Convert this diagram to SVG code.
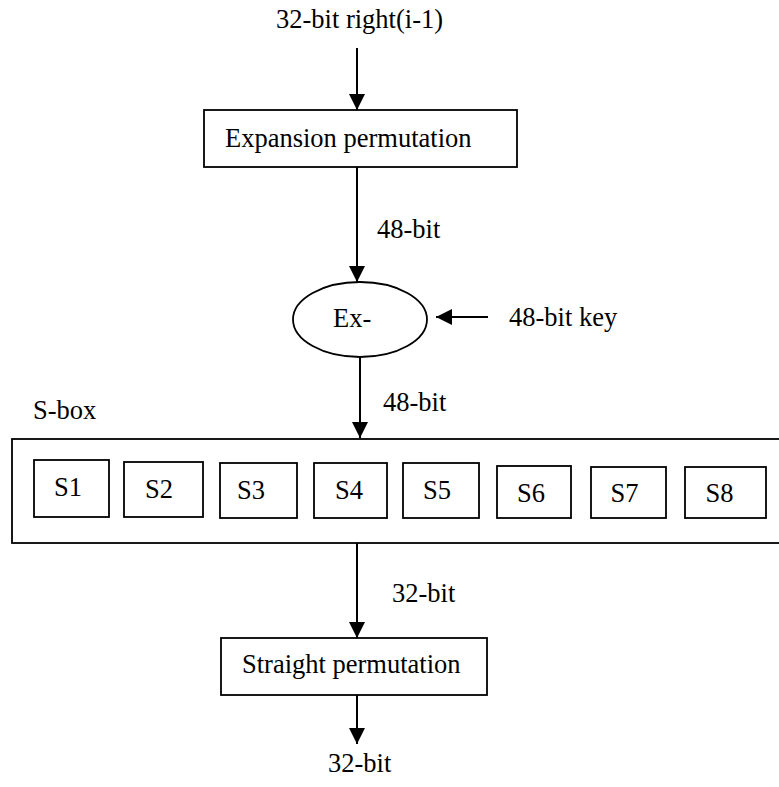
<svg xmlns="http://www.w3.org/2000/svg" width="779" height="787" viewBox="0 0 779 787">
  <style>
    .box { fill: #fff; stroke: #000; stroke-width: 1.8; }
    .wire { fill: none; stroke: #000; stroke-width: 2; }
    text { font-family: "Times New Roman", "Liberation Serif", Times, "DejaVu Serif", serif; font-size: 26.5px; fill: #000; }
    .mid { text-anchor: middle; }
  </style>
  <defs>
    <marker id="arrow" viewBox="0 0 16 16" refX="16" refY="8" markerWidth="16" markerHeight="16" markerUnits="userSpaceOnUse" orient="auto">
      <path d="M0,0 L16,8 L0,16 z" fill="#000"/>
    </marker>
  </defs>
  <rect width="779" height="787" fill="#fff"/>

  <!-- free labels -->
  <g id="labels">
    <text x="276" y="28">32-bit right(i-1)</text>
    <text x="377" y="238">48-bit</text>
    <text x="509" y="326">48-bit key</text>
    <text x="383" y="411">48-bit</text>
    <text x="33" y="419">S-box</text>
    <text x="392" y="602">32-bit</text>
    <text x="328" y="772">32-bit</text>
  </g>

  <!-- nodes -->
  <g id="expansion">
    <rect class="box" x="204" y="110" width="313" height="57"/>
    <text x="225" y="147">Expansion permutation</text>
  </g>

  <g id="xor">
    <ellipse class="box" cx="360" cy="319.5" rx="67" ry="37.5"/>
    <text x="333" y="327">Ex-</text>
  </g>

  <g id="sbox">
    <rect class="box" x="12" y="439" width="775" height="104"/>
    <g id="s1"><rect class="box" x="34" y="460" width="75" height="57"/><text class="mid" x="68" y="496">S1</text></g>
    <g id="s2"><rect class="box" x="124" y="462" width="79" height="55"/><text class="mid" x="159" y="498">S2</text></g>
    <g id="s3"><rect class="box" x="220" y="463" width="77" height="55"/><text class="mid" x="251" y="499">S3</text></g>
    <g id="s4"><rect class="box" x="314" y="463" width="73" height="55"/><text class="mid" x="349" y="499">S4</text></g>
    <g id="s5"><rect class="box" x="403" y="463" width="76" height="55"/><text class="mid" x="437" y="499">S5</text></g>
    <g id="s6"><rect class="box" x="497" y="466" width="74" height="52"/><text class="mid" x="531" y="502">S6</text></g>
    <g id="s7"><rect class="box" x="591" y="467" width="75" height="51"/><text class="mid" x="624.5" y="502">S7</text></g>
    <g id="s8"><rect class="box" x="685" y="467" width="81" height="51"/><text class="mid" x="719.5" y="502">S8</text></g>
  </g>

  <g id="straight">
    <rect class="box" x="221" y="638" width="266" height="57"/>
    <text x="242" y="673">Straight permutation</text>
  </g>

  <!-- connectors -->
  <g id="connectors">
    <line class="wire" x1="357" y1="48" x2="357" y2="110" marker-end="url(#arrow)"/>
    <line class="wire" x1="357" y1="167" x2="357" y2="282" marker-end="url(#arrow)"/>
    <line class="wire" x1="488" y1="317" x2="436" y2="317" marker-end="url(#arrow)"/>
    <line class="wire" x1="360" y1="357" x2="360" y2="438" marker-end="url(#arrow)"/>
    <line class="wire" x1="357" y1="543" x2="357" y2="638" marker-end="url(#arrow)"/>
    <line class="wire" x1="357" y1="695" x2="357" y2="744" marker-end="url(#arrow)"/>
  </g>
</svg>
